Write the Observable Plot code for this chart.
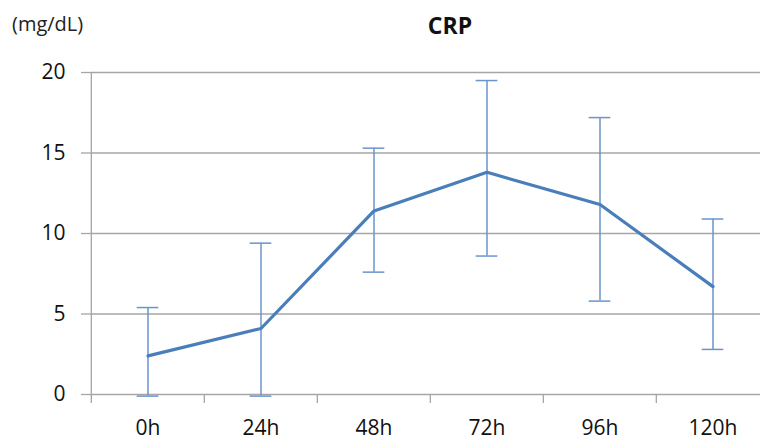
<!DOCTYPE html>
<html>
<head>
<meta charset="utf-8">
<script src="https://cdn.jsdelivr.net/npm/d3@7"></script>
<script src="https://cdn.jsdelivr.net/npm/@observablehq/plot@0.6"></script>
<style>
  html, body { margin: 0; padding: 0; background: #fff; }
  #wrap { position: relative; width: 760px; height: 440px; overflow: hidden; font-family: "Open Sans", "Noto Sans CJK KR", sans-serif; }
  #title { position: absolute; left: 0; width: 900px; top: 9px; text-align: center; font-size: 23px; font-weight: bold; color: #111; }
  #unit { position: absolute; left: 12px; top: 10px; font-size: 20px; color: #222; }
  #chart { position: absolute; left: 0; top: 0; }
</style>
</head>
<body>
<div id="wrap">
  <div id="chart"></div>
  <div id="title">CRP</div>
  <div id="unit">(mg/dL)</div>
</div>
<script>
const categories = ["0h", "24h", "48h", "72h", "96h", "120h"];
const means = [2.4, 4.1, 11.4, 13.8, 11.8, 6.7];
const upper = [5.4, 9.4, 15.3, 19.5, 17.2, 10.9];
const lower = [-0.1, -0.1, 7.6, 8.6, 5.8, 2.8];
const yTicks = [0, 5, 10, 15, 20];

const data = categories.map((c, i) => ({cat: c, mean: means[i], hi: upper[i], lo: lower[i]}));

const rangeX = [90, 770];
const step = (rangeX[1] - rangeX[0]) / categories.length;
const capInset = step / 2 - 11;

const chart = Plot.plot({
  width: 760,
  height: 440,
  marginLeft: 90,
  marginRight: 0,
  marginTop: 72,
  marginBottom: 46,
  style: {fontFamily: "'Open Sans', 'Noto Sans CJK KR', sans-serif", fontSize: "21px", color: "#111", background: "white"},
  x: {type: "band", domain: categories, range: rangeX, padding: 0, label: null},
  y: {domain: [0, 20], label: null},
  marks: [
    Plot.ruleY(yTicks, {stroke: "#a6a6a6", strokeWidth: 1.3}),
    Plot.ruleX(categories, {x: d => d, y1: (d, i) => i === 0 ? 20 : 0, y2: -0.56, dx: -step / 2, stroke: "#a6a6a6", strokeWidth: 1.3}),
    Plot.axisY(yTicks, {tickSize: 9, tickPadding: 16, stroke: "#a6a6a6", strokeWidth: 1.3, fill: "#111", label: null}),
    Plot.axisX({tickSize: 0, tickPadding: 26, fill: "#111", label: null}),
    Plot.ruleX(data, {x: "cat", y1: "lo", y2: "hi", stroke: "#6a94cc", strokeWidth: 1.5}),
    Plot.tickY(data, {x: "cat", y: "hi", stroke: "#6a94cc", strokeWidth: 1.5, insetLeft: capInset, insetRight: capInset}),
    Plot.tickY(data, {x: "cat", y: "lo", stroke: "#6a94cc", strokeWidth: 1.5, insetLeft: capInset, insetRight: capInset}),
    Plot.lineY(data, {x: "cat", y: "mean", stroke: "#4a7ebb", strokeWidth: 3.2})
  ]
});
document.getElementById("chart").appendChild(chart);
</script>
</body>
</html>
